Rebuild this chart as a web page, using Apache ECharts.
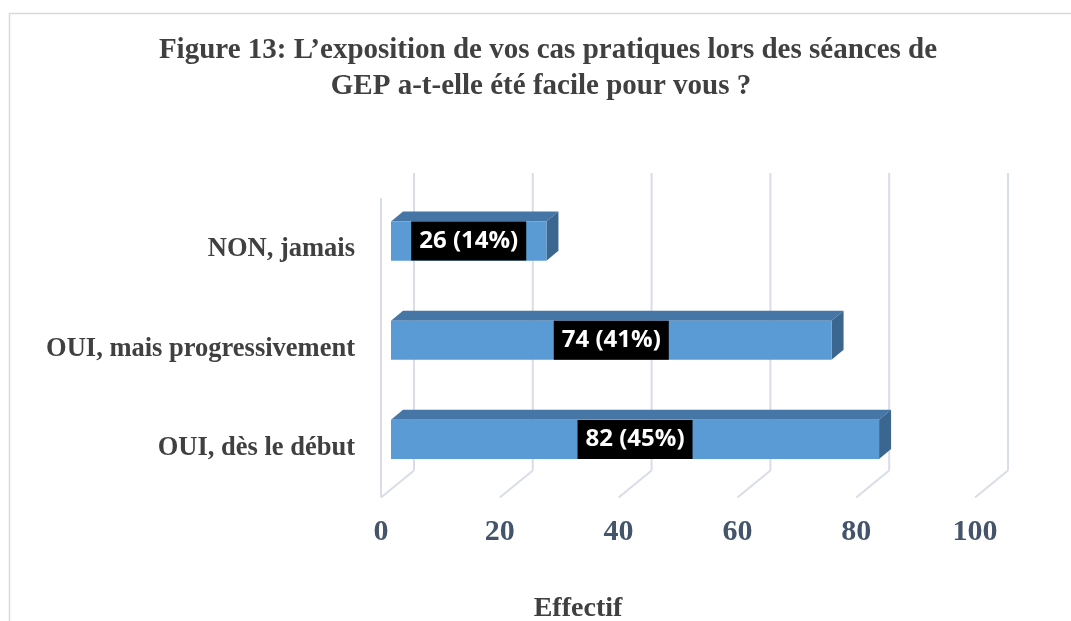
<!DOCTYPE html>
<html>
<head>
<meta charset="utf-8">
<script src="https://cdn.jsdelivr.net/npm/echarts@6/dist/echarts.min.js"></script>
<style>
  html, body { margin: 0; padding: 0; background: #fff; }
  #chart { width: 1071px; height: 621px; }
</style>
</head>
<body>
<div id="chart"></div>
<script>
// données
const categories = ['OUI, dès le début', 'OUI, mais progressivement', 'NON, jamais'];
const counts = [82, 74, 26];
const percents = [45, 41, 14];
const ticks = [0, 20, 40, 60, 80, 100];

const serif = '"Liberation Serif", "Times New Roman", serif';
const gridColor = '#d9dde6';
// décalage de profondeur (effet 3D)
const depthX = 33, depthY = -27;

const chart = echarts.init(document.getElementById('chart'));

function renderGrid(params, api) {
    const cs = params.coordSys;
    const t = api.value(0);
    const x = api.coord([t, 0])[0];
    const yb = cs.y + cs.height;
    const yt = cs.y;
    const st = { stroke: gridColor, lineWidth: 2, fill: null };
    const children = [
        { type: 'line', shape: { x1: x, y1: yb, x2: x + depthX, y2: yb + depthY }, style: st },
        { type: 'line', shape: { x1: x + depthX, y1: yb + depthY, x2: x + depthX, y2: yt + depthY }, style: st }
    ];
    if (t === 0) {
        children.push({ type: 'line', shape: { x1: x, y1: yt - 2, x2: x, y2: yb }, style: st });
    }
    return { type: 'group', children: children };
}

function renderBar(params, api) {
    const cat = api.value(0);
    const val = api.value(1);
    const p0 = api.coord([0, cat]);
    const p1 = api.coord([val, cat]);
    const h = api.size([0, 1])[1] * 0.395;
    const x0 = p0[0] + 10, x1 = p1[0] + 11;
    const yc = p0[1] - 8.5;
    const top = yc - h / 2, bot = yc + h / 2;
    const dx = 12, dy = -10;
    const i = params.dataIndex;
    return {
        type: 'group',
        children: [
            { type: 'polygon', shape: { points: [[x0, top], [x0 + dx, top + dy], [x1 + dx, top + dy], [x1, top]] },
              style: { fill: '#4676a5' } },
            { type: 'polygon', shape: { points: [[x1, top], [x1 + dx, top + dy], [x1 + dx, bot + dy], [x1, bot]] },
              style: { fill: '#3a6690' } },
            { type: 'rect', shape: { x: x0, y: top, width: x1 - x0, height: bot - top },
              style: { fill: '#5b9bd5' } },
            { type: 'text', x: (x0 + x1) / 2, y: yc,
              style: {
                  text: counts[i] + ' (' + percents[i] + '%)',
                  fill: '#ffffff',
                  font: 'bold 24px "Open Sans", sans-serif',
                  align: 'center',
                  verticalAlign: 'middle',
                  backgroundColor: '#000000',
                  padding: [5, 8, 4, 8],
                  lineHeight: 30
              } }
        ]
    };
}

const option = {
    animation: false,
    backgroundColor: '#ffffff',
    graphic: [
        { type: 'rect', shape: { x: 9.5, y: 13.5, width: 1200, height: 800 },
          style: { fill: null, stroke: '#d9d9d9', lineWidth: 1.5 }, silent: true },
        { type: 'text', x: 548, y: 51,
          style: { text: 'Figure 13: L’exposition de vos cas pratiques lors des séances de',
                   font: 'bold 29px ' + serif, fill: '#404040', align: 'center', verticalAlign: 'middle' } },
        { type: 'text', x: 541, y: 87,
          style: { text: 'GEP a-t-elle été facile pour vous ?',
                   font: 'bold 29px ' + serif, fill: '#404040', align: 'center', verticalAlign: 'middle' } },
        { type: 'text', x: 578, y: 609,
          style: { text: 'Effectif', font: 'bold 28px ' + serif, fill: '#404040', align: 'center', verticalAlign: 'middle' } }
    ],
    grid: { left: 381, right: 96, top: 200, bottom: 123.5, containLabel: false },
    xAxis: {
        type: 'value', min: 0, max: 100, interval: 20,
        axisLine: { show: false }, axisTick: { show: false }, splitLine: { show: false },
        axisLabel: { margin: 20, color: '#44546a', fontFamily: serif, fontWeight: 'bold', fontSize: 30 }
    },
    yAxis: {
        type: 'category', data: categories,
        axisLine: { show: false }, axisTick: { show: false }, splitLine: { show: false },
        axisLabel: { margin: 26, color: '#404040', fontFamily: serif, fontWeight: 'bold', fontSize: 26.5 }
    },
    series: [
        { type: 'custom', renderItem: renderGrid, clip: false, silent: true, z: 1,
          data: ticks.map(t => [t, 0]), encode: { x: 0, y: 1 } },
        { type: 'custom', renderItem: renderBar, clip: false, z: 2,
          data: counts.map((v, i) => [i, v]), encode: { x: 1, y: 0 } }
    ]
};

chart.setOption(option);
</script>
</body>
</html>
